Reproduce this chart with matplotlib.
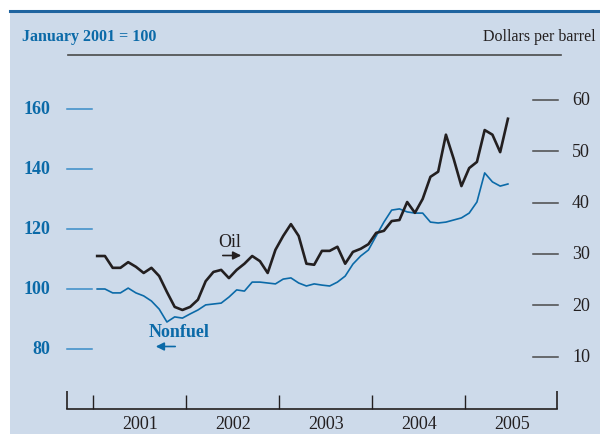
import numpy as np
import matplotlib
matplotlib.use("Agg")
import matplotlib.pyplot as plt
from matplotlib.patches import Rectangle
from matplotlib.lines import Line2D

plt.rcParams['font.family'] = ['Liberation Serif', 'DejaVu Serif']

# monthly data, Jan 2001 onward
oil = [29.6, 29.6, 27.3, 27.3, 28.4, 27.5, 26.3, 27.3, 25.7, 22.6,
       19.7, 19.1, 19.7, 21.1, 24.7, 26.5, 26.9, 25.3, 26.9, 28.1,
       29.6, 28.6, 26.3, 30.8, 33.5, 35.8, 33.5, 28.1, 27.9, 30.6,
       30.6, 31.4, 28.1, 30.4, 31.0, 31.9, 34.1, 34.5, 36.4, 36.6,
       40.1, 38.0, 40.7, 45.0, 46.0, 53.2, 48.5, 43.2, 46.7, 47.9,
       54.1, 53.2, 49.8, 56.3]
nonfuel = [100.0, 100.0, 98.7, 98.7, 100.3, 98.7, 97.7, 96.0, 93.3, 89.0,
           90.7, 90.3, 91.7, 93.0, 94.7, 95.0, 95.3, 97.3, 99.7, 99.3,
           102.3, 102.3, 102.0, 101.7, 103.3, 103.7, 102.0, 101.0, 101.7, 101.3,
           101.0, 102.3, 104.3, 108.3, 111.0, 113.0, 117.7, 122.3, 126.3, 126.7,
           125.7, 125.3, 125.3, 122.3, 122.0, 122.3, 123.0, 123.7, 125.3, 129.0,
           138.7, 135.7, 134.3, 135.0]
years = [2001, 2002, 2003, 2004, 2005]
left_ticks = [80, 100, 120, 140, 160]
right_ticks = [10, 20, 30, 40, 50, 60]

t = 2001 + (np.arange(len(oil)) + 0.5) / 12

BG = '#cddaea'
BLUE = '#0b6aa8'
DARK = '#231f20'
GRAY = '#4a4a4a'

W, H = 600, 435
fig = plt.figure(figsize=(6, 4.35), dpi=100)
fig.patch.set_facecolor('white')
fig.patches.append(Rectangle((10 / W, 0), 1 - 10 / W, (H - 11) / H,
                             transform=fig.transFigure, facecolor=BG,
                             edgecolor='none', zorder=-10))
fig.lines.append(Line2D([10 / W, 1], [1 - 12 / H, 1 - 12 / H],
                        transform=fig.transFigure, color='#1f64a0', lw=2.2))
# header rule
fig.lines.append(Line2D([68 / W, 561 / W], [1 - 56 / H, 1 - 56 / H],
                        transform=fig.transFigure, color=GRAY, lw=1.2))
fig.text(22 / W, 1 - 37 / H, 'January 2001 = 100', color=BLUE,
         fontweight='bold', fontsize=11.5, va='center', ha='left')
fig.text(596 / W, 1 - 37 / H, 'Dollars per barrel', color=DARK,
         fontsize=11.5, va='center', ha='right')

x0, x1, ytop, ybot = 67.3, 557.0, 56.0, 410.0
ax = fig.add_axes([x0 / W, 1 - ybot / H, (x1 - x0) / W, (ybot - ytop) / H])
ax.set_facecolor('none')
ax.set_xlim(2001 - (93.3 - x0) / 93, 2001 + (x1 - 93.3) / 93)
ax.set_ylim(60, 178)
ax2 = ax.twinx()
ax2.set_ylim(-0.16, 68.7)

for a in (ax, ax2):
    for s in ('top', 'left', 'right'):
        a.spines[s].set_visible(False)
    a.set_yticks([])
ax.spines['bottom'].set_color(DARK)
ax.spines['bottom'].set_linewidth(1.2)
ax2.spines['bottom'].set_visible(False)

# x axis: tall end ticks, shorter year ticks
ax.set_xticks(list(ax.get_xlim()))
ax.set_xticklabels([])
ax.set_xticks(years, minor=True)
ax.tick_params(axis='x', which='major', direction='in', length=13, width=1.2, color=DARK)
ax.tick_params(axis='x', which='minor', direction='in', length=10, width=1.0, color=DARK)
for y in years:
    ax.text(y + 0.5, -15 / (ybot - ytop), str(y), transform=ax.get_xaxis_transform(),
            ha='center', va='center', fontsize=13, color=DARK)

# left scale
aw = x1 - x0
for v in left_ticks:
    ax.plot([0, 25 / aw], [v, v], transform=ax.get_yaxis_transform(),
            color='#3a8cc8', lw=1.1, clip_on=False)
    ax.text(-17 / aw, v, str(v), transform=ax.get_yaxis_transform(),
            ha='right', va='center', fontsize=13, fontweight='bold', color=BLUE)
# right scale
for v in right_ticks:
    ax2.plot([(533 - x0) / aw, (558 - x0) / aw], [v, v], transform=ax2.get_yaxis_transform(),
             color=GRAY, lw=1.1, clip_on=False)
    ax2.text((572 - x0) / aw, v, str(v), transform=ax2.get_yaxis_transform(),
             ha='left', va='center', fontsize=13, color=DARK)

ax.plot(t, nonfuel, color=BLUE, lw=1.2)
ax2.plot(t, oil, color=DARK, lw=1.9)

# labels with arrows (axes fraction from pixel positions)
def fx(px):
    return (px - x0) / aw

def fy(py):
    return (ybot - py) / (ybot - ytop)

ax2.text(fx(230), fy(243), 'Oil', transform=ax2.transAxes, ha='center', va='center',
         fontsize=13, color=DARK)
ax2.annotate('', xy=(fx(244), fy(256.5)), xytext=(fx(220), fy(256.5)),
             xycoords='axes fraction', textcoords='axes fraction',
             arrowprops=dict(arrowstyle='-|>', color=DARK, lw=1.2, mutation_scale=12))
ax2.text(fx(179.5), fy(333), 'Nonfuel', transform=ax2.transAxes, ha='center', va='center',
         fontsize=13, fontweight='bold', color=BLUE)
ax2.annotate('', xy=(fx(153), fy(347.5)), xytext=(fx(178), fy(347.5)),
             xycoords='axes fraction', textcoords='axes fraction',
             arrowprops=dict(arrowstyle='-|>', color=BLUE, lw=1.2, mutation_scale=12))

fig.savefig('out.png', dpi=100)
